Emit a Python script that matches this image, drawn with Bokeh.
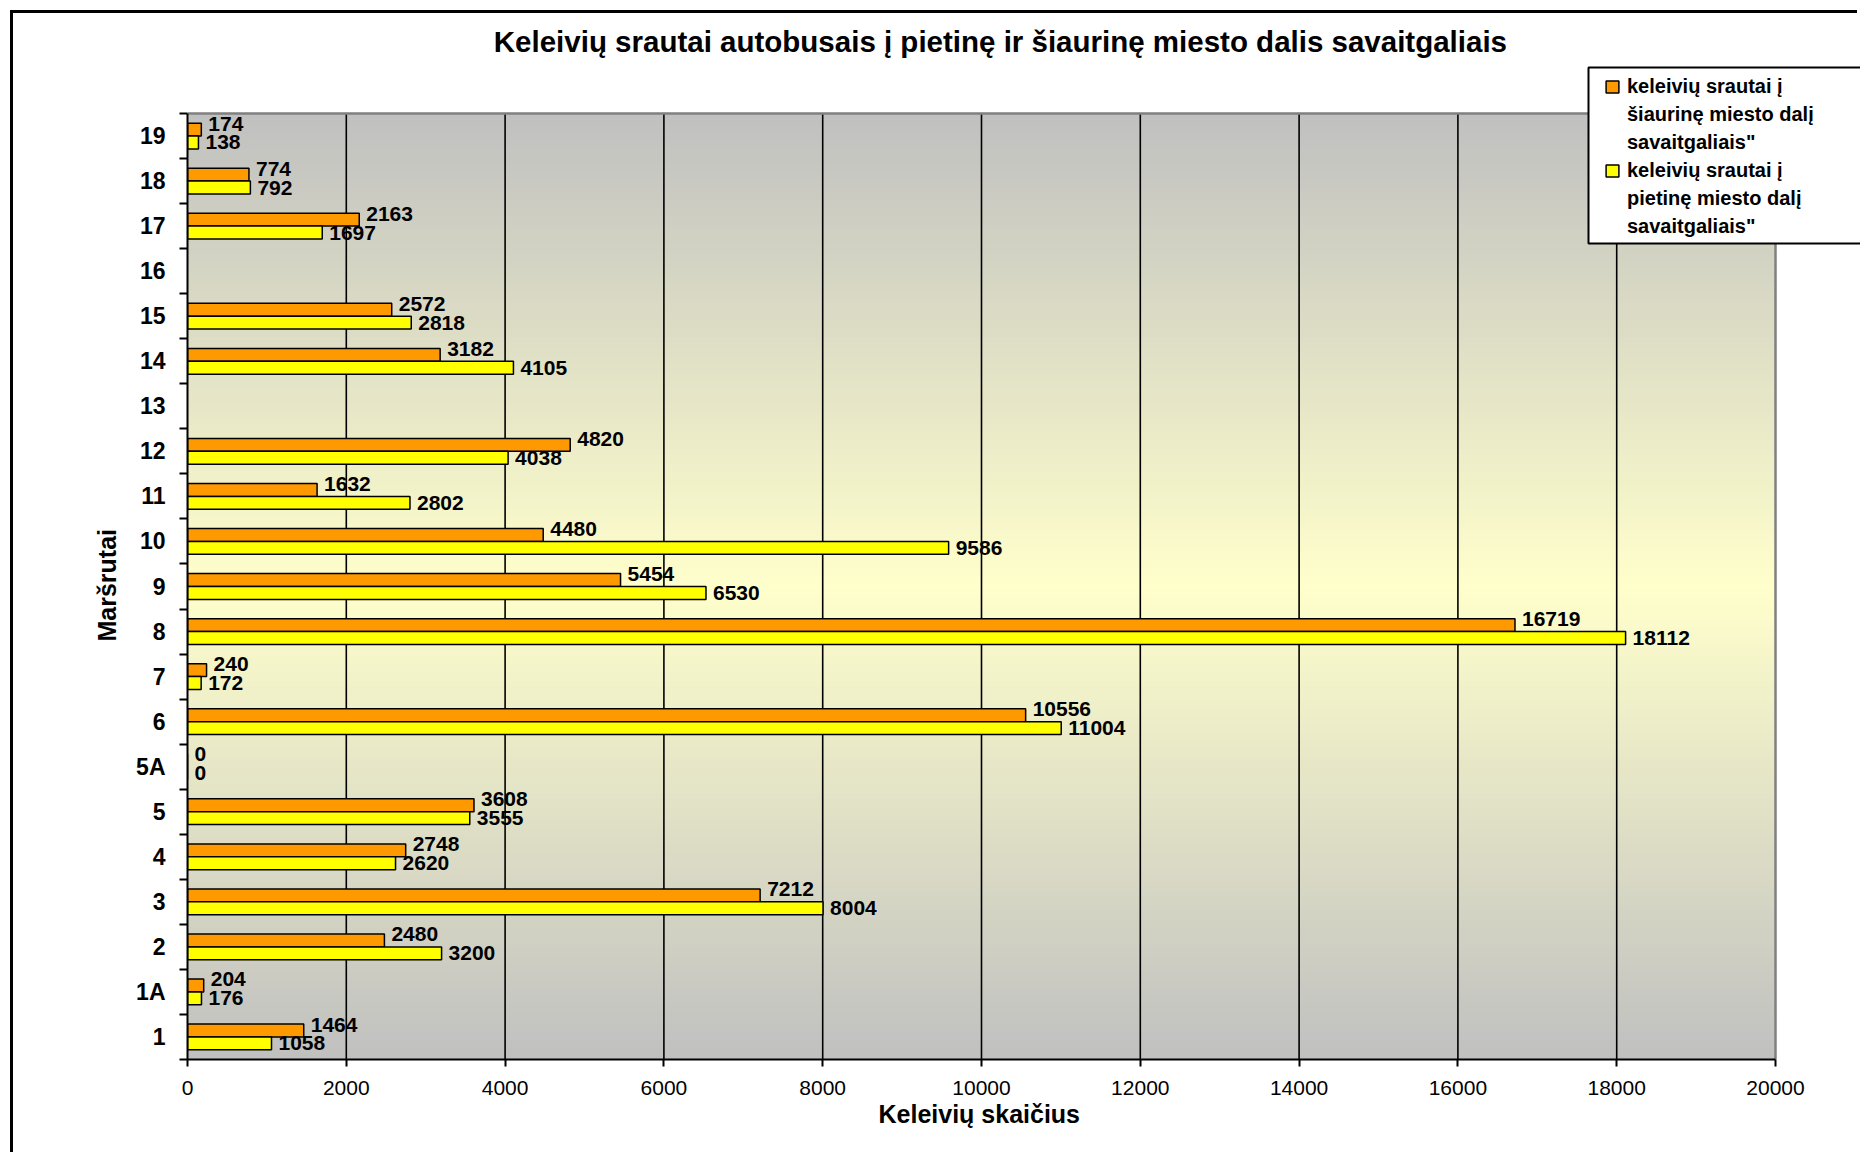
import numpy as np
from bokeh.plotting import figure
from bokeh.models import (FixedTicker, Label, Legend, LegendItem, BoxAnnotation,
                          ColumnDataSource, Range1d, NumeralTickFormatter, Title)
from bokeh.transform import dodge
from bokeh.core.properties import value
from bokeh.embed import file_html
from bokeh.resources import INLINE

# ---------------- data ----------------
routes = ["1", "1A", "2", "3", "4", "5", "5A", "6", "7", "8", "9", "10",
          "11", "12", "13", "14", "15", "16", "17", "18", "19"]
north = [1464, 204, 2480, 7212, 2748, 3608, 0, 10556, 240, 16719, 5454, 4480,
         1632, 4820, None, 3182, 2572, None, 2163, 774, 174]
south = [1058, 176, 3200, 8004, 2620, 3555, 0, 11004, 172, 18112, 6530, 9586,
         2802, 4038, None, 4105, 2818, None, 1697, 792, 138]
x_ticks = [0, 2000, 4000, 6000, 8000, 10000, 12000, 14000, 16000, 18000, 20000]

title_text = "Keleivių srautai autobusais  į pietinę ir šiaurinę miesto dalis savaitgaliais"
x_title = "Keleivių skaičius"
y_title = "Maršrutai"
north_label = ["keleivių srautai į", "šiaurinę miesto dalį", 'savaitgaliais"']
south_label = ["keleivių srautai į", "pietinę miesto dalį", 'savaitgaliais"']

FONT = "Liberation Sans"
ORANGE = "#FF9900"
YELLOW = "#FFFF00"

# ---------------- layout (page pixels) ----------------
M = 13                      # offset of the chart box from the page corner
W, H = 1861 - M - 1, 1155 - M
PL, PT, PR, PB = 187, 113, 1775, 1059   # plot-area edges
FR = M + W                  # frame extends to the right edge of the canvas
FT = M                      # ... and to the top edge

XMAX = x_ticks[-1]
Y0, Y1 = -0.5, len(routes) - 0.5
x_end = XMAX * (FR - PL) / (PR - PL)
y_end = Y0 + (Y1 - Y0) * (PB - FT) / (PB - PT)

p = figure(width=W, height=H, output_backend="svg", toolbar_location=None,
           x_range=Range1d(0, x_end), y_range=Range1d(Y0, y_end),
           min_border_left=PL - M, min_border_top=0,
           min_border_right=0, min_border_bottom=M + H - PB,
           border_fill_color="white", background_fill_color="white")
p.outline_line_color = None
p.styles = {"margin-left": f"{M}px", "margin-top": f"{M}px",
            "box-shadow": "-3px -3px 0px 0px black"}

# gradient background of the plot area (grey - light yellow - grey)
n = 480
t = np.linspace(0.0, 1.0, n)
wgt = 1.0 - np.abs(2.0 * t - 1.0)
img = np.empty((n, 1), dtype=np.uint32)
v = img.view(dtype=np.uint8).reshape((n, 1, 4))
v[:, 0, 0] = np.round(192 + (255 - 192) * wgt)
v[:, 0, 1] = np.round(192 + (255 - 192) * wgt)
v[:, 0, 2] = np.round(192 + (204 - 192) * wgt)
v[:, 0, 3] = 255
p.image_rgba(image=[img], x=0, y=Y0, dw=XMAX, dh=Y1 - Y0, level="image")

# vertical grid lines, limited to the plot area
p.grid.visible = False
grid_x = x_ticks[1:-1]
p.segment(x0=grid_x, x1=grid_x, y0=[Y0] * len(grid_x), y1=[Y1] * len(grid_x),
          line_color="black", line_width=1.6, level="underlay")

# grey top / right edge of the plot area
p.line(x=[0, XMAX, XMAX], y=[Y1, Y1, Y0], line_color="#808080", line_width=2.5,
       level="underlay")

# ---------------- bars ----------------
idx_n = [i for i, val in enumerate(north) if val is not None]
idx_s = [i for i, val in enumerate(south) if val is not None]
src_n = ColumnDataSource(dict(y=idx_n, v=[north[i] for i in idx_n],
                              t=[str(north[i]) for i in idx_n]))
src_s = ColumnDataSource(dict(y=idx_s, v=[south[i] for i in idx_s],
                              t=[str(south[i]) for i in idx_s]))

BH = 0.286
r_n = p.hbar(y=dodge("y", BH / 2), right="v", left=0, height=BH, source=src_n,
             fill_color=ORANGE, line_color="black", line_width=1.5)
p.text(x="v", y=dodge("y", BH / 2), text="t", source=src_n, x_offset=7, y_offset=-6,
       text_font=value(FONT), text_font_style="bold", text_font_size="21px",
       text_align="left", text_baseline="middle", text_color="black")
r_s = p.hbar(y=dodge("y", -BH / 2), right="v", left=0, height=BH, source=src_s,
             fill_color=YELLOW, line_color="black", line_width=1.5)
p.text(x="v", y=dodge("y", -BH / 2), text="t", source=src_s, x_offset=7, y_offset=0,
       text_font=value(FONT), text_font_style="bold", text_font_size="21px",
       text_align="left", text_baseline="middle", text_color="black")
r_blank = p.hbar(y=[], right=[], height=0.1, fill_alpha=0, line_alpha=0)

# ---------------- axes ----------------
xa = p.xaxis[0]
xa.ticker = FixedTicker(ticks=x_ticks)
xa.bounds = (0, XMAX)
xa.formatter = NumeralTickFormatter(format="0")
xa.axis_line_color = "black"
xa.axis_line_width = 2
xa.major_tick_line_color = "black"
xa.major_tick_line_width = 2
xa.major_tick_out = 7
xa.major_tick_in = 0
xa.minor_tick_line_color = None
xa.major_label_text_font = FONT
xa.major_label_text_font_size = "21px"
xa.major_label_text_color = "black"
xa.major_label_standoff = 14

ya = p.yaxis[0]
ya.ticker = FixedTicker(ticks=list(range(len(routes))),
                        minor_ticks=[i - 0.5 for i in range(len(routes) + 1)])
ya.bounds = (Y0, Y1)
ya.major_label_overrides = {i: r for i, r in enumerate(routes)}
ya.axis_line_color = "black"
ya.axis_line_width = 2
ya.major_tick_line_color = None
ya.major_tick_out = 0
ya.major_tick_in = 0
ya.minor_tick_line_color = "black"
ya.minor_tick_line_width = 2
ya.minor_tick_out = 8
ya.minor_tick_in = 0
ya.major_label_text_font = FONT
ya.major_label_text_font_size = "23px"
ya.major_label_text_font_style = "bold"
ya.major_label_text_color = "black"
ya.major_label_standoff = 14

# axis titles, centred on the plot area (not on the extended frame)
p.add_layout(Title(text=x_title, align="left", offset=878 - PL, standoff=0,
                   vertical_align="bottom", text_line_height=1.7,
                   text_font=FONT, text_font_size="25px", text_font_style="bold",
                   text_color="black"), "below")
p.add_layout(Title(text=y_title, align="left", offset=PB - 641, standoff=25,
                   text_font=FONT, text_font_size="25px", text_font_style="bold",
                   text_color="black"), "left")

# ---------------- chart title ----------------
p.add_layout(Label(x=1004 - PL, y=PB - 41, x_units="screen", y_units="screen",
                   text=title_text, text_font=FONT, text_font_size="29.5px",
                   text_font_style="bold", text_align="center", text_baseline="middle",
                   text_color="black"))

# ---------------- legend ----------------
p.add_layout(BoxAnnotation(left=1588 - PL, right=FR - PL + 50, top=PB - 67, bottom=PB - 243,
                           left_units="screen", right_units="screen",
                           top_units="screen", bottom_units="screen",
                           fill_color="white", fill_alpha=1,
                           line_color="black", line_alpha=1, line_width=2))

items = [LegendItem(label=north_label[0], renderers=[r_n]),
         LegendItem(label=north_label[1], renderers=[r_blank]),
         LegendItem(label=north_label[2], renderers=[r_blank]),
         LegendItem(label=south_label[0], renderers=[r_s]),
         LegendItem(label=south_label[1], renderers=[r_blank]),
         LegendItem(label=south_label[2], renderers=[r_blank])]
leg = Legend(items=items, location=(1604 - PL, PB - 240), padding=6, margin=0,
             spacing=0, label_height=28, glyph_height=15, glyph_width=16,
             label_standoff=7, border_line_color=None, background_fill_alpha=0,
             label_text_font=FONT, label_text_font_size="20px",
             label_text_font_style="bold", label_text_color="black")
p.add_layout(leg, "center")

open("out.html", "w").write(file_html(p, INLINE))
